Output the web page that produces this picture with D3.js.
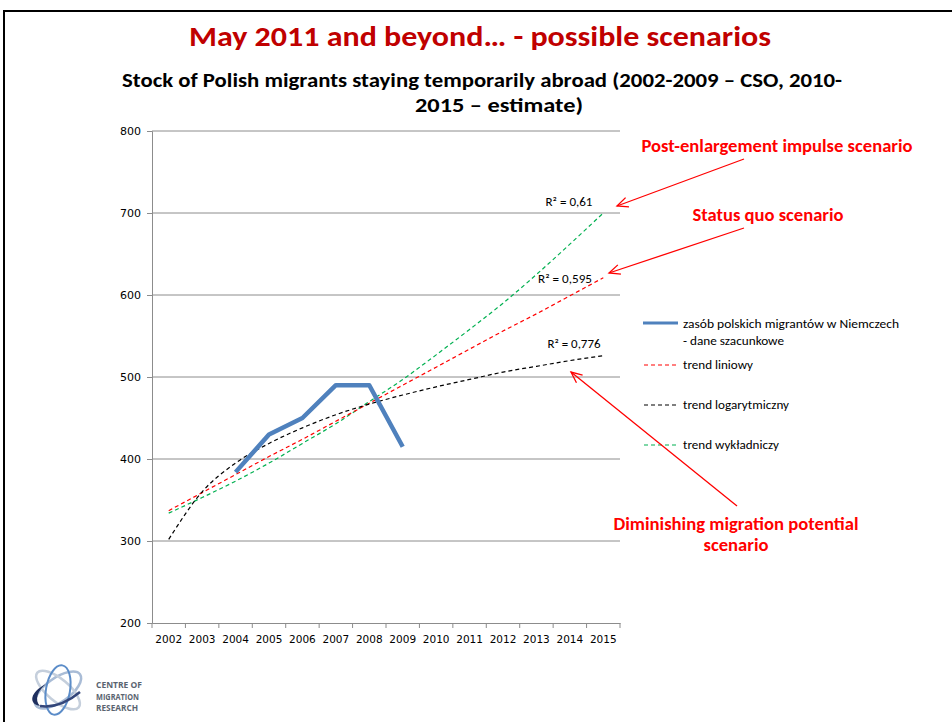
<!DOCTYPE html>
<html>
<head>
<meta charset="utf-8">
<script src="https://cdn.jsdelivr.net/npm/d3@7/dist/d3.min.js"></script>
<style>
  html, body { margin: 0; padding: 0; background: #fff; }
  svg { display: block; font-family: Carlito, Calibri, Lato, "Open Sans", sans-serif; }
</style>
</head>
<body>
<svg id="chart" width="952" height="722"></svg>
<script>
// Years on the category axis
const years = ["2002","2003","2004","2005","2006","2007","2008","2009","2010","2011","2012","2013","2014","2015"];
// Stock of Polish migrants (thousands), estimates
const stockYears = ["2004","2005","2006","2007","2008","2009"];
const stockValues = [384, 430, 450, 490, 490, 415];
// Trend lines over the whole period
const trendLinear = [337, 359, 381, 403, 424, 446, 468, 490, 512, 534, 556, 577, 599, 621];
const trendLog    = [302, 360, 395, 419, 438, 454, 467, 478, 488, 497, 506, 513, 520, 526];
const trendExp    = [334, 353, 373, 395, 419, 443, 470, 497, 527, 558, 590, 625, 662, 700];
// R² labels of each trend
const r2Labels = ["R² = 0,61", "R² = 0,595", "R² = 0,776"];
const yTicks = [200, 300, 400, 500, 600, 700, 800];
const legendLabels = ["zasób polskich migrantów  w Niemczech", "- dane szacunkowe", "trend liniowy", "trend logarytmiczny", "trend wykładniczy"];

const svg = d3.select("#chart");
const axisFont = "'DejaVu Sans', Verdana, sans-serif";

// Slide frame
svg.append("path").attr("d", "M4,722 V11 H952").attr("fill", "none").attr("stroke", "#000").attr("stroke-width", 2);

// Headings
svg.append("text").attr("x", 480).attr("y", 46).attr("text-anchor", "middle")
  .attr("font-size", 29).attr("font-weight", "bold").attr("fill", "#c00000")
  .attr("textLength", 582).attr("lengthAdjust", "spacingAndGlyphs")
  .text("May 2011 and beyond… - possible scenarios");
svg.append("text").attr("x", 482).attr("y", 87).attr("text-anchor", "middle")
  .attr("font-size", 20).attr("font-weight", "bold").attr("fill", "#000")
  .attr("textLength", 720).attr("lengthAdjust", "spacingAndGlyphs")
  .text("Stock of Polish migrants staying temporarily abroad (2002-2009 – CSO, 2010-");
svg.append("text").attr("x", 499).attr("y", 112).attr("text-anchor", "middle")
  .attr("font-size", 20).attr("font-weight", "bold").attr("fill", "#000")
  .attr("textLength", 168).attr("lengthAdjust", "spacingAndGlyphs")
  .text("2015 – estimate)");

// Scales
const x = d3.scaleBand().domain(years).range([152, 620]);
const y = d3.scaleLinear().domain([200, 800]).range([623, 131]);
const cx = d => x(d) + x.bandwidth() / 2;

// Gridlines
svg.append("g").selectAll("line").data(yTicks.filter(v => v > 200)).join("line")
  .attr("x1", 152).attr("x2", 620).attr("y1", d => y(d)).attr("y2", d => y(d))
  .attr("stroke", "#8c8c8c").attr("stroke-width", 1);

// Y axis
const yAxis = svg.append("g").attr("transform", "translate(152,0)")
  .call(d3.axisLeft(y).tickValues(yTicks).tickSize(5).tickPadding(6));
yAxis.select(".domain").attr("stroke", "#8c8c8c");
yAxis.selectAll(".tick line").attr("stroke", "#8c8c8c");
yAxis.selectAll("text").attr("font-size", 11).attr("fill", "#000").attr("font-family", axisFont);

// X axis
const xAxis = svg.append("g").attr("transform", "translate(0,623)")
  .call(d3.axisBottom(x).tickSize(0).tickPadding(13));
xAxis.select(".domain").attr("stroke", "#8c8c8c");
xAxis.selectAll("text").attr("font-size", 10.5).attr("fill", "#000").attr("font-family", axisFont);
svg.append("g").selectAll("line").data(years.concat(["end"])).join("line")
  .attr("x1", (d, i) => 152 + i * x.step()).attr("x2", (d, i) => 152 + i * x.step())
  .attr("y1", 623).attr("y2", 628).attr("stroke", "#8c8c8c");

// Trend lines
const trendLine = d3.line().x((d, i) => cx(years[i])).y(d => y(d)).curve(d3.curveMonotoneX);
const trends = [
  { values: trendExp, color: "#00b050" },
  { values: trendLinear, color: "#ff0000" },
  { values: trendLog, color: "#000000" }
];
svg.append("g").selectAll("path").data(trends).join("path")
  .attr("d", d => trendLine(d.values))
  .attr("fill", "none").attr("stroke", d => d.color).attr("stroke-width", 1.2)
  .attr("stroke-dasharray", "4,3");

// Data series
const dataLine = d3.line().x((d, i) => cx(stockYears[i])).y(d => y(d));
svg.append("path").attr("d", dataLine(stockValues))
  .attr("fill", "none").attr("stroke", "#4f81bd").attr("stroke-width", 4.5).attr("stroke-linejoin", "round");

// R² labels
const r2Pos = [[569, 206], [565, 283], [574, 348]];
const r2Width = [47, 54, 53];
svg.append("g").selectAll("text").data(r2Labels).join("text")
  .attr("x", (d, i) => r2Pos[i][0]).attr("y", (d, i) => r2Pos[i][1])
  .attr("text-anchor", "middle").attr("font-size", 12).attr("fill", "#000")
  .attr("textLength", (d, i) => r2Width[i]).attr("lengthAdjust", "spacingAndGlyphs")
  .text(d => d);

// Legend
const lg = svg.append("g");
lg.append("line").attr("x1", 643).attr("x2", 678).attr("y1", 323).attr("y2", 323)
  .attr("stroke", "#4f81bd").attr("stroke-width", 3);
lg.append("text").attr("x", 683).attr("y", 328).attr("font-size", 12)
  .attr("textLength", 216).attr("lengthAdjust", "spacingAndGlyphs").text(legendLabels[0]);
lg.append("text").attr("x", 683).attr("y", 345).attr("font-size", 12)
  .attr("textLength", 101).attr("lengthAdjust", "spacingAndGlyphs").text(legendLabels[1]);
const legendRows = [
  { label: legendLabels[2], color: "#ff0000", y: 365, w: 70 },
  { label: legendLabels[3], color: "#000000", y: 405, w: 106 },
  { label: legendLabels[4], color: "#00b050", y: 445, w: 96 }
];
legendRows.forEach(r => {
  lg.append("line").attr("x1", 644).attr("x2", 677).attr("y1", r.y).attr("y2", r.y)
    .attr("stroke", r.color).attr("stroke-width", 1.2).attr("stroke-dasharray", "4,3");
  lg.append("text").attr("x", 683).attr("y", r.y + 4).attr("font-size", 12)
    .attr("textLength", r.w).attr("lengthAdjust", "spacingAndGlyphs").text(r.label);
});

// Scenario annotations with arrows
const red = "#ff0000";
const notes = [
  { lines: ["Post-enlargement impulse scenario"], x: 777, y: 152, w: [271] },
  { lines: ["Status quo scenario"], x: 768, y: 221, w: [151] },
  { lines: ["Diminishing migration potential", "scenario"], x: 736, y: 530, w: [245, 65] }
];
notes.forEach(n => {
  n.lines.forEach((l, i) => {
    svg.append("text").attr("x", n.x).attr("y", n.y + i * 21).attr("text-anchor", "middle")
      .attr("font-size", 17).attr("font-weight", "bold").attr("fill", red)
      .attr("textLength", n.w[i]).attr("lengthAdjust", "spacingAndGlyphs").text(l);
  });
});
const arrows = [
  [744, 159, 617, 206],
  [744, 228, 609, 273],
  [737, 506, 571, 372]
];
arrows.forEach(([x1, y1, x2, y2]) => {
  svg.append("line").attr("x1", x1).attr("y1", y1).attr("x2", x2).attr("y2", y2)
    .attr("stroke", red).attr("stroke-width", 1.3);
  const a = Math.atan2(y1 - y2, x1 - x2), len = 12, spread = 0.42;
  const p1 = [x2 + len * Math.cos(a + spread), y2 + len * Math.sin(a + spread)];
  const p2 = [x2 + len * Math.cos(a - spread), y2 + len * Math.sin(a - spread)];
  svg.append("path").attr("d", `M${p1[0]},${p1[1]} L${x2},${y2} L${p2[0]},${p2[1]}`)
    .attr("fill", "none").attr("stroke", red).attr("stroke-width", 1.3);
});

// Centre of Migration Research logo
const logo = svg.append("g").attr("transform", "translate(58,690)");
logo.append("ellipse").attr("rx", 27).attr("ry", 12).attr("transform", "rotate(-35)")
  .attr("fill", "none").attr("stroke", "#a9bcd6").attr("stroke-width", 2.5);
logo.append("ellipse").attr("rx", 27).attr("ry", 11).attr("transform", "rotate(40)")
  .attr("fill", "none").attr("stroke", "#c5cfdc").attr("stroke-width", 2.5);
logo.append("ellipse").attr("rx", 12).attr("ry", 25).attr("transform", "rotate(10)")
  .attr("fill", "none").attr("stroke", "#5b8cc8").attr("stroke-width", 2);
logo.append("path").attr("d", "M-12,-6 C-28,2 -30,14 -18,16 C-24,10 -20,0 -12,-6 Z")
  .attr("fill", "#1f2f5e");
logo.append("path").attr("d", "M-18,16 C-4,18 10,12 22,2")
  .attr("fill", "none").attr("stroke", "#33467a").attr("stroke-width", 2.5);
["CENTRE OF", "MIGRATION", "RESEARCH"].forEach((t, i) => {
  svg.append("text").attr("x", 96).attr("y", 688 + i * 11.5).attr("font-size", 9)
    .attr("font-weight", "bold").attr("fill", "#5a6470")
    .attr("font-family", "'Open Sans', sans-serif").attr("textLength", i === 0 ? 46 : (i === 1 ? 43 : 42))
    .attr("lengthAdjust", "spacingAndGlyphs").text(t);
});
</script>
</body>
</html>
